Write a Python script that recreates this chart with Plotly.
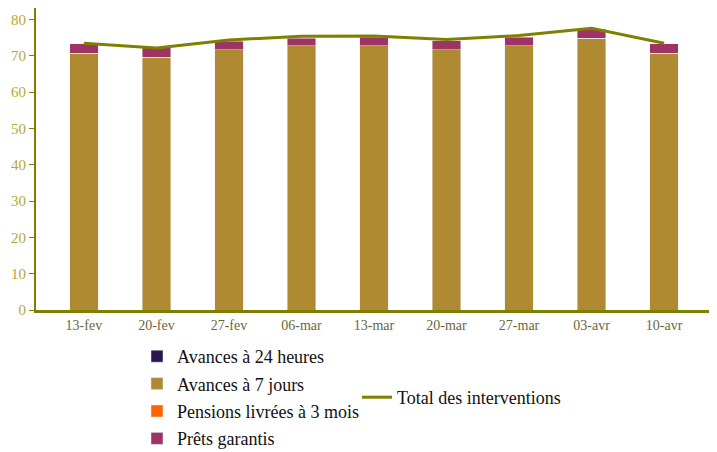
import plotly.graph_objects as go

categories = ["13-fev", "20-fev", "27-fev", "06-mar", "13-mar", "20-mar", "27-mar", "03-avr", "10-avr"]
avances_24h = [0, 0, 0, 0, 0, 0, 0, 0, 0]
avances_7j = [70.7, 69.6, 71.7, 72.8, 72.8, 71.7, 72.8, 74.8, 70.7]
pensions_3m = [0, 0, 0, 0, 0, 0, 0, 0, 0]
prets_garantis = [2.6, 2.7, 2.3, 2.1, 2.3, 2.5, 2.3, 2.6, 2.6]
total = [73.5, 72.2, 74.4, 75.4, 75.5, 74.5, 75.6, 77.6, 73.5]
y_ticks = [0, 10, 20, 30, 40, 50, 60, 70, 80]

FONT = "Liberation Serif"
bar_w = 0.39

fig = go.Figure()
series = [
    ("Avances à 24 heures", avances_24h, "#2B1650"),
    ("Avances à 7 jours", avances_7j, "#B08A33"),
    ("Pensions livrées à 3 mois", pensions_3m, "#FF6600"),
    ("Prêts garantis", prets_garantis, "#9E3365"),
]
for i, (name, vals, col) in enumerate(series):
    fig.add_trace(go.Bar(
        x=categories, y=vals, name=name, marker_color=col,
        width=bar_w, legend="legend", legendgroup=f"g{i}",
    ))

fig.add_trace(go.Scatter(
    x=categories, y=total, name="Total des interventions", mode="lines",
    line=dict(color="#808000", width=3), legend="legend2",
))

fig.update_layout(
    width=717, height=452,
    barmode="stack",
    plot_bgcolor="white", paper_bgcolor="white",
    margin=dict(l=28, r=13, t=0, b=150, autoexpand=False),
    font=dict(family=FONT, size=18, color="#111111"),
    showlegend=True,
    legend=dict(
        xref="container", yref="container",
        x=129 / 717, y=1 - 330 / 452, xanchor="left", yanchor="top",
        traceorder="grouped", tracegroupgap=1,
        font=dict(family=FONT, size=18, color="#111111"),
        bgcolor="rgba(0,0,0,0)",
    ),
    legend2=dict(
        xref="container", yref="container",
        x=349 / 717, y=1 - 371 / 452, xanchor="left", yanchor="top",
        font=dict(family=FONT, size=18, color="#111111"),
        bgcolor="rgba(0,0,0,0)",
    ),
    xaxis=dict(
        type="category", range=[-0.66, 8.66],
        showline=True, linecolor="#808000", linewidth=3,
        ticks="", showgrid=False, tickangle=0,
        tickfont=dict(family=FONT, size=14, color="#6b6640"),
    ),
    yaxis=dict(
        range=[0, 83.2], tickvals=y_ticks,
        showline=True, linecolor="#808000", linewidth=2,
        ticks="outside", ticklen=5, tickcolor="#808000", tickwidth=1,
        showgrid=False, zeroline=False,
        tickfont=dict(family=FONT, size=15, color="#B8A830"),
    ),
)

fig.write_html("out.html")
